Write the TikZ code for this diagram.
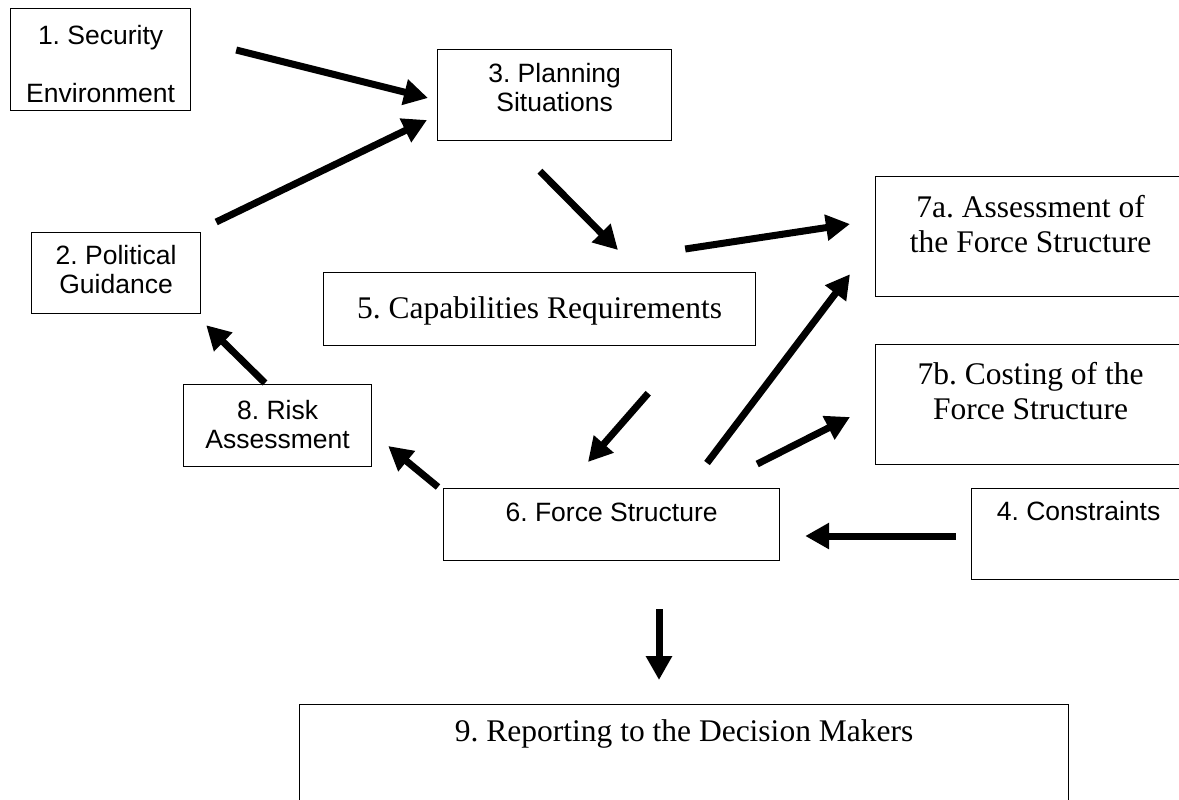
\documentclass[tikz,border=0pt]{standalone}
\usepackage{fontspec}
\setmainfont{Liberation Serif}
\setsansfont{Liberation Sans}
\usetikzlibrary{arrows.meta}
\frenchspacing
\newcommand{\boxlines}[1]{\begin{tabular}[t]{@{}c@{}}#1\end{tabular}}
\tikzstyle{arrow} = [line width=3.5pt,-{Triangle[length=12pt,width=12.5pt]}]
\tikzstyle{sbox} = [draw,line width=0.6pt,anchor=north west,inner sep=0pt,font=\sffamily\fontsize{13.25}{14.5}\selectfont]
\tikzstyle{rbox} = [sbox,font=\rmfamily\fontsize{15.75}{17.5}\selectfont]

\begin{document}
\begin{tikzpicture}[x=0.5pt,y=-0.5pt]
\useasboundingbox (0,0) rectangle (1179,799);

% Boxes
\node[sbox, minimum width=90pt, text height=18pt, text depth=33pt] (sec) at (10,8) {\boxlines{1. Security\\ \\Environment}};
\node[sbox, minimum width=84.5pt, text height=16pt, text depth=24.5pt] (pol) at (31,232) {\boxlines{2. Political\\Guidance}};
\node[sbox, minimum width=117pt, text height=16.5pt, text depth=29pt] (plan) at (437,49) {\boxlines{3. Planning\\Situations}};
\node[sbox, minimum width=107pt, text height=16pt, text depth=29.5pt] (cons) at (971,488) {4. Constraints};
\node[rbox, minimum width=216pt, text height=23pt, text depth=13.5pt] (cap) at (323,272) {5. Capabilities Requirements};
\node[sbox, minimum width=168pt, text height=16.5pt, text depth=19.5pt] (force) at (443,488) {6. Force Structure};
\node[rbox, minimum width=155pt, text height=20.5pt, text depth=39.5pt] (assess) at (875,176) {\boxlines{7a. Assessment of\\the Force Structure}};
\node[rbox, minimum width=155pt, text height=20pt, text depth=40pt] (cost) at (875,344) {\boxlines{7b. Costing of the\\Force Structure}};
\node[sbox, minimum width=94pt, text height=17.5pt, text depth=23.5pt] (risk) at (183,384) {\boxlines{8. Risk\\Assessment}};
\node[rbox, minimum width=384.5pt, text height=18.5pt, text depth=40pt] (report) at (299,704) {9. Reporting to the Decision Makers};

% Arrows
\draw[arrow] ([shift={(45,42)}]sec.north east) -- ([shift={(-9,49)}]plan.north west);
\draw[arrow] ([shift={(15,-10)}]pol.north east) -- ([shift={(-10,71)}]plan.north west);
\draw[arrow] ([shift={(82,-1)}]risk.north west) -- ([shift={(5,11)}]pol.south east);
\draw[arrow] ([shift={(-5,-1)}]force.north west) -- ([shift={(16,62)}]risk.north east);
\draw[arrow] ([shift={(103,30)}]plan.south west) -- ([shift={(295,-22)}]cap.north west);
\draw[arrow] ([shift={(-71,-23)}]cap.north east) -- ([shift={(-25,48)}]assess.north west);
\draw[arrow] ([shift={(-108,47)}]cap.south east) -- ([shift={(145,-26)}]force.north west);
\draw[arrow] ([shift={(264,-25)}]force.north west) -- ([shift={(-25,-23)}]assess.south west);
\draw[arrow] ([shift={(-23,-24)}]force.north east) -- ([shift={(-25,73)}]cost.north west);
\draw[arrow] ([shift={(-15,48)}]cons.north west) -- ([shift={(25,48)}]force.north east);
\draw[arrow] ([shift={(216,48)}]force.south west) -- ([shift={(360,-24)}]report.north west);
\end{tikzpicture}
\end{document}
